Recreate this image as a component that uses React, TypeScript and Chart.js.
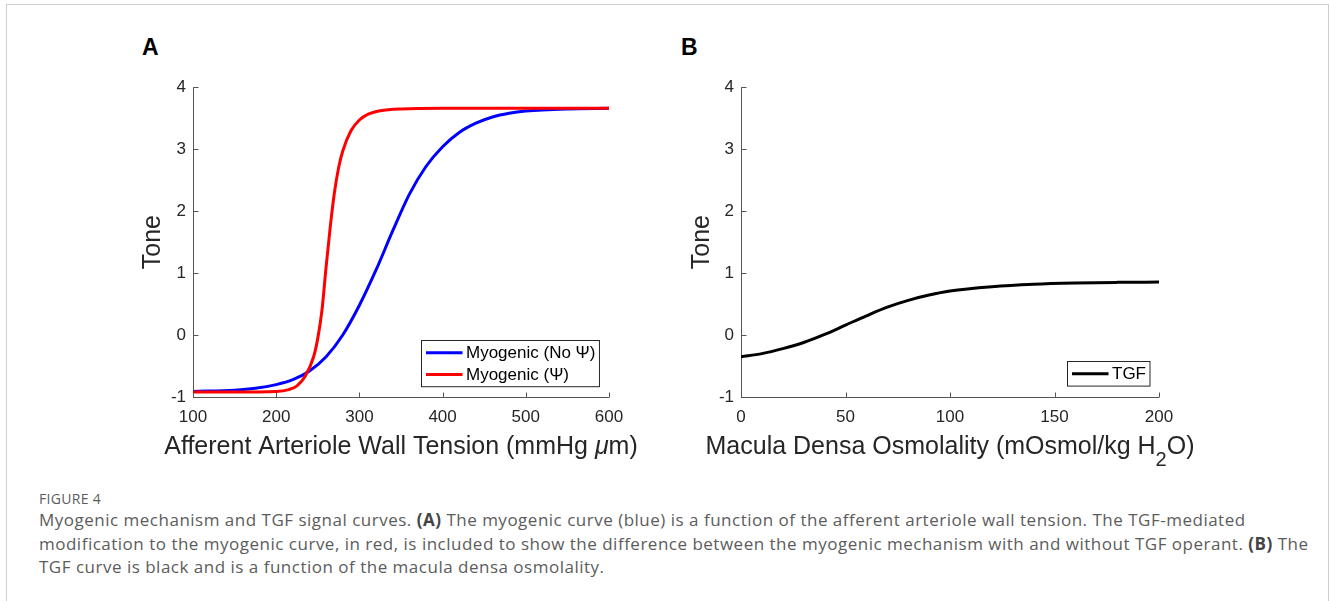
import React, { useEffect, useRef } from "react";
import { Chart, registerables } from "chart.js";

Chart.register(...registerables);

// ---------- data ----------
const myoNoPsiX = [100, 150, 175, 200, 220, 240, 260, 280, 300, 320, 340, 360, 380, 400, 420, 440, 460, 480, 500, 550, 600];
const myoNoPsiY = [-0.91, -0.89, -0.86, -0.8, -0.72, -0.58, -0.35, 0.0, 0.48, 1.05, 1.68, 2.27, 2.72, 3.04, 3.27, 3.42, 3.52, 3.58, 3.615, 3.65, 3.66];
const myoPsiX = [100, 150, 200, 215, 225, 235, 245, 250, 255, 260, 265, 270, 275, 280, 290, 300, 310, 325, 350, 400, 500, 600];
const myoPsiY = [-0.92, -0.92, -0.91, -0.88, -0.82, -0.66, -0.35, -0.05, 0.4, 1.1, 1.75, 2.3, 2.7, 2.97, 3.3, 3.47, 3.56, 3.62, 3.65, 3.66, 3.66, 3.66];
const tgfX = [0, 10, 20, 30, 40, 50, 60, 70, 80, 90, 100, 120, 140, 160, 180, 200];
const tgfY = [-0.35, -0.3, -0.22, -0.12, 0.01, 0.16, 0.31, 0.45, 0.56, 0.645, 0.71, 0.78, 0.82, 0.84, 0.85, 0.855];

const yRange = [-1, 4];
const xRangeA = [100, 600];
const xRangeB = [0, 200];
const xStepA = 100;
const xStepB = 50;

const labelNoPsi = "Myogenic (No Ψ)";
const labelPsi = "Myogenic (Ψ)";
const labelTgf = "TGF";
const yTitle = "Tone";
// axis titles as text runs (plain, italic, subscript)
const xTitleA = [
  { text: "Afferent Arteriole Wall Tension (mmHg " },
  { text: "μ", italic: true },
  { text: "m)" },
];
const xTitleB = [
  { text: "Macula Densa Osmolality (mOsmol/kg H" },
  { text: "2", sub: true },
  { text: "O)" },
];

const FONT = '"Liberation Sans", Arial, Helvetica, sans-serif';
const TEXT = "#262626";

const pts = (xs: number[], ys: number[]) => xs.map((x, i) => ({ x, y: ys[i] }));

const runFont = (r: any) => `${r.italic ? "italic " : ""}${r.sub ? 20 : 25}px ${FONT}`;

const matlabAxes = {
  id: "matlabAxes",
  beforeDatasetsDraw(chart: any) {
    const { ctx, chartArea, scales } = chart;
    const { left, right, top, bottom } = chartArea;
    const x = scales.x;
    const y = scales.y;
    ctx.save();
    ctx.strokeStyle = "#555";
    ctx.lineWidth = 1;
    ctx.beginPath();
    const L = Math.round(left) + 0.5;
    const B = Math.round(bottom) + 0.5;
    ctx.moveTo(L, top);
    ctx.lineTo(L, B);
    ctx.lineTo(right, B);
    x.ticks.forEach((t: any) => {
      const px = Math.round(x.getPixelForValue(t.value)) + 0.5;
      ctx.moveTo(px, B);
      ctx.lineTo(px, B - 5);
    });
    y.ticks.forEach((t: any) => {
      const py = Math.round(y.getPixelForValue(t.value)) + 0.5;
      ctx.moveTo(L, py);
      ctx.lineTo(L + 5, py);
    });
    ctx.stroke();
    ctx.restore();
  },
  afterDatasetsDraw(chart: any, _args: any, opts: any) {
    const { ctx, chartArea } = chart;
    const { left, right, bottom } = chartArea;

    // x-axis title (full width, no squeezing)
    const runs = opts && opts.xTitle;
    if (runs && runs.length) {
      ctx.save();
      let total = 0;
      const widths = runs.map((r: any) => {
        ctx.font = runFont(r);
        const w = ctx.measureText(r.text).width;
        total += w;
        return w;
      });
      let cx = (left + right) / 2 - total / 2;
      const baseY = bottom + 57;
      ctx.fillStyle = TEXT;
      ctx.textAlign = "left";
      ctx.textBaseline = "alphabetic";
      runs.forEach((r: any, i: number) => {
        ctx.font = runFont(r);
        ctx.fillText(r.text, cx, baseY + (r.sub ? 12 : 0));
        cx += widths[i];
      });
      ctx.restore();
    }

    // legend (southeast, inside axes)
    const items = opts && opts.items;
    if (!items || !items.length) return;
    ctx.save();
    ctx.font = `17px ${FONT}`;
    const textW = Math.max(...items.map((it: any) => ctx.measureText(it.label).width));
    const rowH = 21.6;
    const boxW = 44.5 + textW + 4;
    const boxH = items.length * rowH + 3;
    const bx = Math.round(right - 10 - boxW) + 0.5;
    const by = Math.round(bottom - 11 - boxH) + 0.5;
    ctx.fillStyle = "#fff";
    ctx.fillRect(bx, by, boxW, boxH);
    ctx.strokeStyle = TEXT;
    ctx.lineWidth = 1;
    ctx.strokeRect(bx, by, boxW, boxH);
    items.forEach((it: any, i: number) => {
      const cy = by + 1.5 + rowH / 2 + i * rowH;
      ctx.strokeStyle = it.color;
      ctx.lineWidth = 3;
      ctx.beginPath();
      ctx.moveTo(bx + 4.5, cy);
      ctx.lineTo(bx + 41, cy);
      ctx.stroke();
      ctx.fillStyle = "#000";
      ctx.textAlign = "left";
      ctx.textBaseline = "middle";
      ctx.fillText(it.label, bx + 44.5, cy + 1);
    });
    ctx.restore();
  },
};

type PanelProps = {
  left: number;
  top: number;
  width: number;
  height: number;
  yWidth: number;
  yTitlePad: number;
  xMin: number;
  xMax: number;
  xStep: number;
  xTitle: any[];
  datasets: any[];
  legend: { label: string; color: string }[];
};

function Panel(p: PanelProps) {
  const ref = useRef<HTMLCanvasElement | null>(null);
  useEffect(() => {
    if (!ref.current) return;
    const chart = new Chart(ref.current, {
      type: "line",
      data: { datasets: p.datasets },
      plugins: [matlabAxes as any],
      options: {
        animation: false,
        responsive: false,
        maintainAspectRatio: false,
        events: [],
        layout: { padding: { left: 0, right: 51, top: 12, bottom: 0 } },
        elements: {
          point: { radius: 0 },
          line: { borderWidth: 3, cubicInterpolationMode: "monotone" },
        },
        plugins: {
          legend: { display: false },
          tooltip: { enabled: false },
          matlabAxes: { items: p.legend, xTitle: p.xTitle },
        } as any,
        scales: {
          x: {
            type: "linear",
            min: p.xMin,
            max: p.xMax,
            ticks: {
              stepSize: p.xStep,
              color: TEXT,
              font: { family: FONT, size: 17 },
              padding: 10,
              maxRotation: 0,
              autoSkip: false,
            },
            grid: { display: false, drawTicks: false },
            border: { display: false },
            title: { display: false },
            afterFit: (s: any) => {
              s.height = 73;
            },
          },
          y: {
            type: "linear",
            min: yRange[0],
            max: yRange[1],
            ticks: {
              stepSize: 1,
              color: TEXT,
              font: { family: FONT, size: 17 },
              padding: 7,
            },
            grid: { display: false, drawTicks: false },
            border: { display: false },
            title: {
              display: true,
              text: yTitle,
              color: TEXT,
              font: { family: FONT, size: 25 },
              padding: { top: p.yTitlePad, bottom: 0 },
            },
            afterFit: (s: any) => {
              s.width = p.yWidth;
            },
          },
        },
      } as any,
    });
    return () => chart.destroy();
  }, []);
  return (
    <canvas
      ref={ref}
      width={p.width}
      height={p.height}
      style={{ position: "absolute", left: p.left, top: p.top, width: p.width, height: p.height }}
    />
  );
}

export default function App() {
  const dsA = [
    {
      label: labelNoPsi,
      data: pts(myoNoPsiX, myoNoPsiY),
      borderColor: "#0000ff",
      backgroundColor: "#0000ff",
      order: 1,
    },
    {
      label: labelPsi,
      data: pts(myoPsiX, myoPsiY),
      borderColor: "#ff0000",
      backgroundColor: "#ff0000",
      order: 0,
    },
  ];
  const dsB = [
    {
      label: labelTgf,
      data: pts(tgfX, tgfY),
      borderColor: "#000000",
      backgroundColor: "#000000",
    },
  ];
  const capStyle: React.CSSProperties = {
    position: "absolute",
    left: 39,
    whiteSpace: "nowrap",
    fontFamily: "'Open Sans', Lato, sans-serif",
    fontSize: 17,
    letterSpacing: 0.5,
    lineHeight: "20px",
    color: "#5c5c5c",
  };
  return (
    <div
      style={{
        position: "fixed",
        left: 0,
        top: 0,
        width: 1330,
        height: 601,
        background: "#fff",
        overflow: "hidden",
      }}
    >
      <div
        style={{
          position: "absolute",
          left: 6,
          top: 4,
          width: 1321,
          height: 620,
          borderTop: "1px solid #cfcfcf",
          borderLeft: "1px solid #cfcfcf",
          borderRight: "1px solid #cfcfcf",
        }}
      />
      <div style={{ position: "absolute", left: 142, top: 34, font: `bold 23px ${FONT}`, color: "#000" }}>A</div>
      <div style={{ position: "absolute", left: 681, top: 34, font: `bold 23px ${FONT}`, color: "#000" }}>B</div>
      <Panel
        left={100}
        top={70}
        width={560}
        height={400}
        yWidth={93}
        yTitlePad={38}
        xMin={xRangeA[0]}
        xMax={xRangeA[1]}
        xStep={xStepA}
        xTitle={xTitleA}
        datasets={dsA}
        legend={[
          { label: labelNoPsi, color: "#0000ff" },
          { label: labelPsi, color: "#ff0000" },
        ]}
      />
      <Panel
        left={650}
        top={70}
        width={560}
        height={400}
        yWidth={91}
        yTitlePad={37}
        xMin={xRangeB[0]}
        xMax={xRangeB[1]}
        xStep={xStepB}
        xTitle={xTitleB}
        datasets={dsB}
        legend={[{ label: labelTgf, color: "#000000" }]}
      />
      <div style={{ ...capStyle, top: 489, fontSize: 14, letterSpacing: 0.3 }}>FIGURE 4</div>
      <div style={{ ...capStyle, top: 510 }}>
        Myogenic mechanism and TGF signal curves. <b style={{ color: "#444" }}>(A)</b> The myogenic curve (blue) is a
        function of the afferent arteriole wall tension. The TGF-mediated
      </div>
      <div style={{ ...capStyle, top: 534 }}>
        modification to the myogenic curve, in red, is included to show the difference between the myogenic mechanism
        with and without TGF operant. <b style={{ color: "#444" }}>(B)</b> The
      </div>
      <div style={{ ...capStyle, top: 557 }}>TGF curve is black and is a function of the macula densa osmolality.</div>
    </div>
  );
}
